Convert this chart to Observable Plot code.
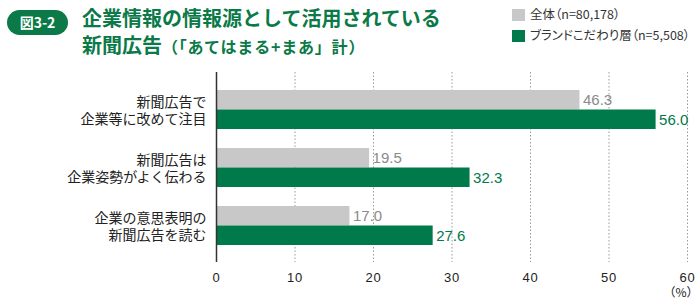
<!DOCTYPE html>
<html>
<head>
<meta charset="utf-8">
<script src="https://cdn.jsdelivr.net/npm/d3@7"></script>
<script src="https://cdn.jsdelivr.net/npm/@observablehq/plot@0.6"></script>
<style>
  body { margin: 0; background: #fff; }
  #wrap { position: relative; width: 700px; height: 307px; overflow: hidden; font-family: "Noto Sans CJK JP", "Noto Sans", sans-serif; }
  #chart { position: absolute; left: 0; top: 0; }
  .pill { position: absolute; left: 7px; top: 10px; width: 61px; height: 25px; border-radius: 13px; background: #0b7a48; color: #fff; font-weight: 700; font-size: 14px; line-height: 25px; text-align: center; font-family: "Noto Sans CJK JP", sans-serif; }
  .t1 { position: absolute; left: 82px; top: 5px; font-size: 20px; line-height: 26px; font-weight: 700; color: #0b7a48; white-space: nowrap; }
  .t2 { position: absolute; left: 82px; top: 32px; font-size: 20px; line-height: 26px; font-weight: 700; color: #0b7a48; white-space: nowrap; }
  .t2 span { font-size: 16px; letter-spacing: 0.8px; }
  .legend { position: absolute; left: 512px; font-size: 12.5px; color: #333; white-space: nowrap; line-height: 14px; font-feature-settings: "palt"; }
  .legend i { display: inline-block; width: 13px; height: 12px; vertical-align: -2px; margin-right: 5px; }
  g[aria-label="x-axis tick label"] text { letter-spacing: 0.8px; }
</style>
</head>
<body>
<div id="wrap">
  <div id="chart"></div>
  <div class="pill">図3-2</div>
  <div class="t1">企業情報の情報源として活用されている</div>
  <div class="t2">新聞広告<span>（「あてはまる+まあ」計）</span></div>
  <div class="legend" id="leg1" style="top:7px"></div>
  <div class="legend" id="leg2" style="top:28px"></div>
</div>
<script>
const categories = [
  "新聞広告で\n企業等に改めて注目",
  "新聞広告は\n企業姿勢がよく伝わる",
  "企業の意思表明の\n新聞広告を読む"
];
const allValues = [46.3, 19.5, 17.0];
const brandValues = [56.0, 32.3, 27.6];
const seriesNames = ["全体（n=80,178）", "ブランドこだわり層（n=5,508）"];
const xTicks = [0, 10, 20, 30, 40, 50, 60];
const unitLabel = "（%）";

const GRAY = "#c8c8c8";
const GREEN = "#007a4b";

document.getElementById("leg1").innerHTML = `<i style="background:${GRAY}"></i>${seriesNames[0]}`;
document.getElementById("leg2").innerHTML = `<i style="background:${GREEN}"></i>${seriesNames[1]}`;

const data = categories.map((c, i) => ({ category: c, all: allValues[i], brand: brandValues[i] }));

const half = 19.5;
const chart = Plot.plot({
  width: 700,
  height: 307,
  marginLeft: 216,
  marginRight: 13,
  marginTop: 72,
  marginBottom: 45,
  style: { fontFamily: "'Liberation Sans', 'Noto Sans CJK JP', sans-serif", fontSize: "13px", color: "#222", background: "transparent" },
  x: { domain: [0, 60], ticks: xTicks, tickSize: 0, tickPadding: 10, label: null, tickFormat: d => String(d) },
  y: { domain: categories, paddingInner: 0.335, paddingOuter: 0.287, axis: null },
  marks: [
    Plot.ruleX(xTicks.filter(d => d > 0), { stroke: "#9a9a9a", strokeWidth: 1, strokeDasharray: "1.5,2" }),
    Plot.barX(data, { x: "all", y: "category", fill: GRAY, insetBottom: half }),
    Plot.barX(data, { x: "brand", y: "category", fill: GREEN, insetTop: half }),
    Plot.ruleX([0], { stroke: "#333", strokeWidth: 1.5 }),
    Plot.text(data, { x: "all", y: "category", text: d => d.all.toFixed(1), dy: -half / 2, dx: 3, textAnchor: "start", fill: "#8a8a8a", fontSize: 15 }),
    Plot.text(data, { x: "brand", y: "category", text: d => d.brand.toFixed(1), dy: half / 2, dx: 3, textAnchor: "start", fill: GREEN, fontSize: 15, fontWeight: 500 }),
    Plot.text(data, { x: 0, y: "category", text: "category", dx: -10, textAnchor: "end", fill: "#222", fontSize: 14, lineHeight: 1.25, fontFamily: "'Noto Sans CJK JP', sans-serif" }),
    Plot.text([unitLabel], { x: 60, frameAnchor: "bottom", dy: 34, dx: 11, textAnchor: "end", fill: "#222", fontSize: 12, fontFamily: "'Noto Sans CJK JP', sans-serif" })
  ]
});
document.getElementById("chart").appendChild(chart);
</script>
</body>
</html>
